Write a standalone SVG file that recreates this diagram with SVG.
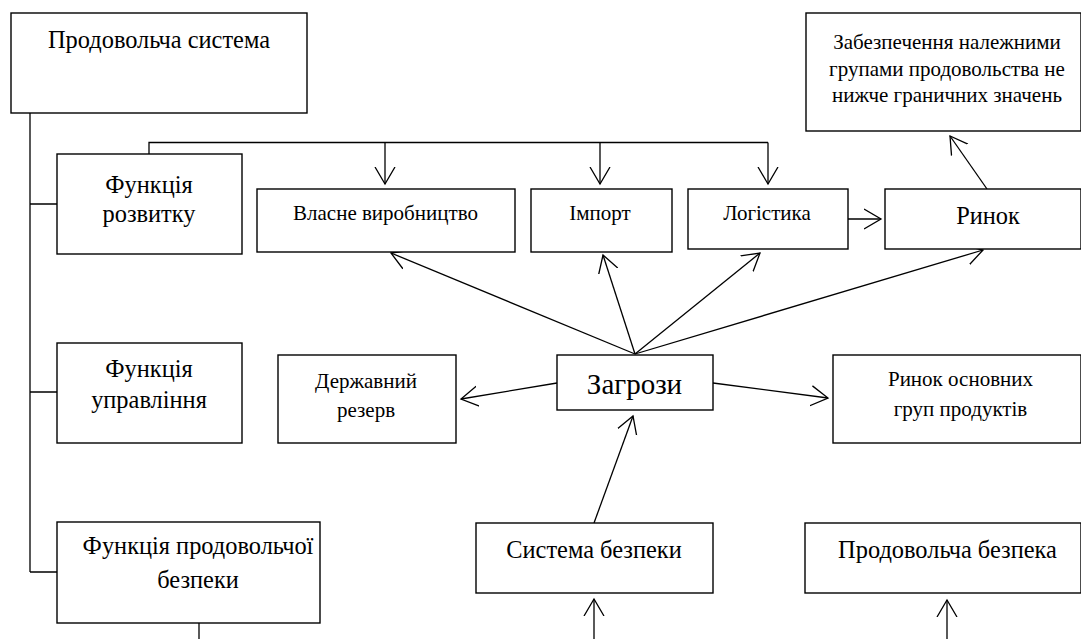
<svg xmlns="http://www.w3.org/2000/svg" width="1081" height="639" viewBox="0 0 1081 639" font-family="Liberation Serif, Times New Roman, serif">
<style>
.box{fill:#fff;stroke:#000;stroke-width:1.4}
.t{fill:#000;text-anchor:middle}
.s16{font-size:21px}
.s20{font-size:24.4px}
.s22{font-size:29px}
.ln{fill:none;stroke:#000;stroke-width:1.3}
.ar{fill:none;stroke:#000;stroke-width:1.3;marker-end:url(#arr)}
</style>
<defs>
<marker id="arr" markerUnits="userSpaceOnUse" markerWidth="24" markerHeight="24" refX="17" refY="10" orient="auto" viewBox="0 0 24 20">
<path d="M0,0 L17,10 L0,20" fill="none" stroke="#000" stroke-width="1.3"/>
</marker>
</defs>
<rect width="1081" height="639" fill="#fff"/>
<g id="connectors">
<path class="ln" d="M30,113 V572 M30,204 H57 M30,392 H57 M30,572 H57"/>
<path class="ln" d="M149,154 V142.5 H768"/>
<path class="ar" d="M385,142.5 V184"/>
<path class="ar" d="M600,142.5 V184"/>
<path class="ar" d="M768,142.5 V184"/>
<path class="ar" d="M848,219 H881"/>
<path class="ar" d="M987,189 L950,136"/>
<path class="ar" d="M635,354 L391,253"/>
<path class="ar" d="M635,354 L603,255"/>
<path class="ar" d="M635,354 L760,253"/>
<path class="ar" d="M635,354 L983,250"/>
<path class="ar" d="M557,383 L461,399"/>
<path class="ar" d="M713,383 L828,398"/>
<path class="ar" d="M594,523 L633,416"/>
<path class="ar" d="M594,639 V599"/>
<path class="ar" d="M947,639 V600"/>
<path class="ln" d="M199,623 V639"/>
</g>
<g id="food-system">
<rect class="box" x="11" y="13" width="296" height="100"/>
<text class="t s20" x="159" y="48">Продовольча система</text>
</g>
<g id="development">
<rect class="box" x="57" y="154" width="185" height="100"/>
<text class="t s20" x="149" y="193">Функція</text>
<text class="t s20" x="149" y="222">розвитку</text>
</g>
<g id="management">
<rect class="box" x="57" y="343" width="185" height="100"/>
<text class="t s20" x="149" y="377">Функція</text>
<text class="t s20" x="149" y="408">управління</text>
</g>
<g id="food-security-function">
<rect class="box" x="57" y="522" width="263" height="101"/>
<text class="t s20" x="198" y="554">Функція продовольчої</text>
<text class="t s20" x="198" y="588">безпеки</text>
</g>
<g id="own-production">
<rect class="box" x="257" y="189" width="258" height="63"/>
<text class="t s16" x="385.5" y="220">Власне виробництво</text>
</g>
<g id="import">
<rect class="box" x="531" y="189" width="141" height="63"/>
<text class="t s16" x="600" y="220">Імпорт</text>
</g>
<g id="logistics">
<rect class="box" x="688" y="189" width="160" height="60"/>
<text class="t s16" x="767" y="220">Логістика</text>
</g>
<g id="market">
<rect class="box" x="885" y="189" width="196" height="60"/>
<text class="t s20" x="988" y="224">Ринок</text>
</g>
<g id="provision">
<rect class="box" x="806" y="13" width="275" height="118"/>
<text class="t s16" x="947" y="49">Забезпечення належними</text>
<text class="t s16" x="947" y="76">групами продовольства не</text>
<text class="t s16" x="947" y="102">нижче граничних значень</text>
</g>
<g id="threats">
<rect class="box" x="557" y="355" width="156" height="55"/>
<text class="t s22" x="634.5" y="394">Загрози</text>
</g>
<g id="state-reserve">
<rect class="box" x="278" y="355" width="178" height="88"/>
<text class="t s16" x="366" y="388">Державний</text>
<text class="t s16" x="366" y="417">резерв</text>
</g>
<g id="basic-market">
<rect class="box" x="833" y="355" width="248" height="88"/>
<text class="t s16" x="960.5" y="386">Ринок основних</text>
<text class="t s16" x="960.5" y="416">груп продуктів</text>
</g>
<g id="security-system">
<rect class="box" x="476" y="523" width="237" height="70"/>
<text class="t s20" x="594" y="558">Система безпеки</text>
</g>
<g id="food-security">
<rect class="box" x="805" y="523" width="276" height="70"/>
<text class="t s20" x="947.5" y="558">Продовольча безпека</text>
</g>
</svg>
